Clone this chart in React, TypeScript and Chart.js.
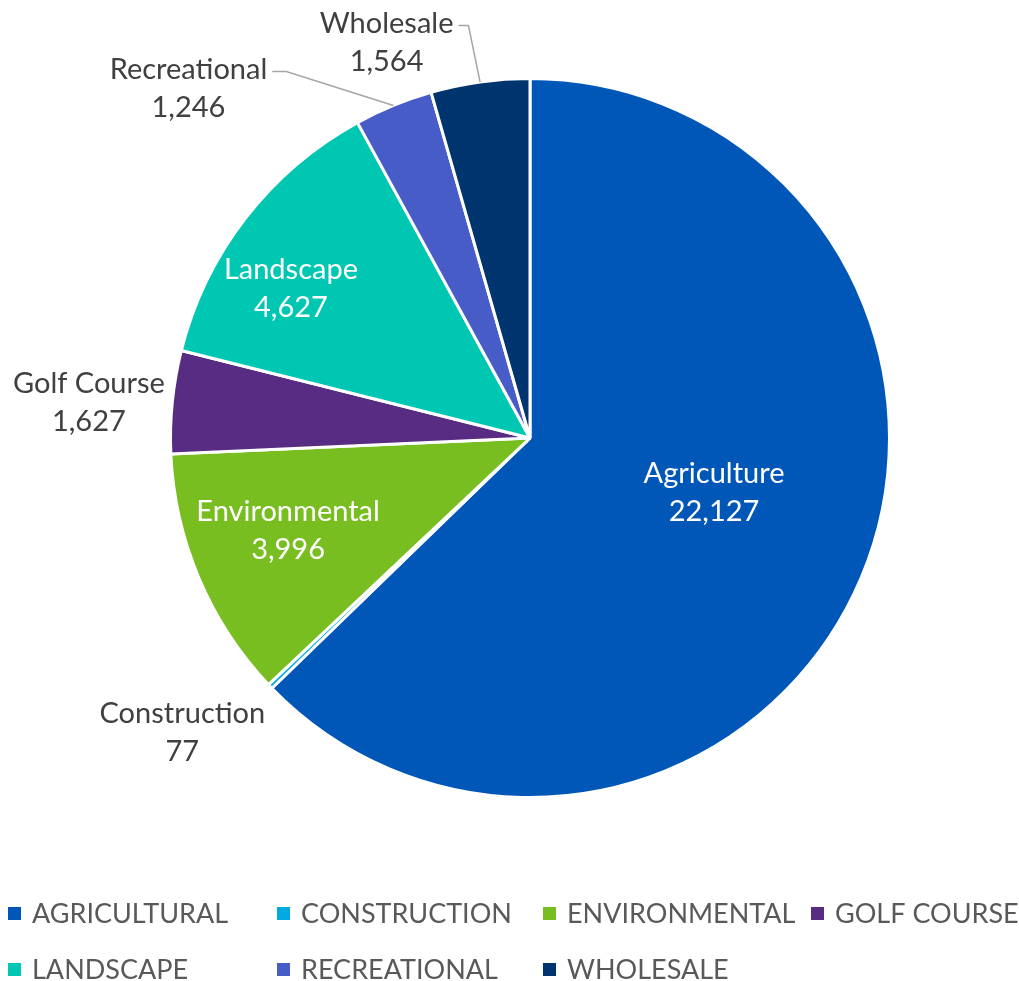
import React, { useEffect, useRef } from "react";
import { Chart, registerables } from "chart.js";

Chart.register(...registerables);

const categories = ["Agriculture", "Construction", "Environmental", "Golf Course", "Landscape", "Recreational", "Wholesale"];
const legendLabels = ["AGRICULTURAL", "CONSTRUCTION", "ENVIRONMENTAL", "GOLF COURSE", "LANDSCAPE", "RECREATIONAL", "WHOLESALE"];
const values = [22127, 77, 3996, 1627, 4627, 1246, 1564];
const colors = ["#0057B8", "#00A9E0", "#78BE20", "#582C83", "#00C7B1", "#485CC7", "#00346E"];
// label placement relative to pie center, in units of radius
const labelOffsets = [
  [0.512, 0.152],
  [-0.967, 0.82],
  [-0.673, 0.258],
  [-1.227, -0.097],
  [-0.665, -0.416],
  [-0.95, -0.972],
  [-0.399, -1.1],
];
const labelInside = [true, false, true, false, true, false, false];
const leaderLines = [false, false, false, false, false, true, true];

const FONT = "Lato, 'Open Sans', sans-serif";
const LABEL_SIZE = 29;
const LEGEND_SIZE = 27;

const fmt = (v: number) => v.toLocaleString("en-US");

const labelPlugin = {
  id: "sliceLabels",
  afterDatasetsDraw(chart: any) {
    const ctx = chart.ctx;
    const meta = chart.getDatasetMeta(0);
    const first = meta.data[0];
    const cx = first.x;
    const cy = first.y;
    const r = first.outerRadius;
    ctx.save();
    ctx.font = `${LABEL_SIZE}px ${FONT}`;
    ctx.textAlign = "center";
    ctx.textBaseline = "middle";
    const lh = 38;
    meta.data.forEach((arc: any, i: number) => {
      const [fx, fy] = labelOffsets[i];
      const x = cx + fx * r;
      const y = cy + fy * r;
      ctx.fillStyle = labelInside[i] ? "#FFFFFF" : "#404040";
      ctx.fillText(categories[i], x, y - lh / 2);
      ctx.fillText(fmt(values[i]), x, y + lh / 2);
      if (leaderLines[i]) {
        const w = ctx.measureText(categories[i]).width;
        const sx = x + w / 2 + 5;
        const sy = y - lh / 2 + 2;
        const mid = (arc.startAngle + arc.endAngle) / 2;
        const ex = cx + Math.cos(mid) * r;
        const ey = cy + Math.sin(mid) * r;
        ctx.strokeStyle = "#A6A6A6";
        ctx.lineWidth = 1.5;
        ctx.beginPath();
        ctx.moveTo(sx, sy);
        ctx.lineTo(sx + (i === 6 ? 10 : 14), sy);
        ctx.lineTo(ex, ey);
        ctx.stroke();
      }
    });
    ctx.restore();
  },
};

const legendPlugin = {
  id: "gridLegend",
  afterDraw(chart: any) {
    const ctx = chart.ctx;
    const colX = [8, 277, 543, 811];
    const rowY = [913, 969];
    ctx.save();
    ctx.font = `${LEGEND_SIZE}px ${FONT}`;
    ctx.textAlign = "left";
    ctx.textBaseline = "middle";
    legendLabels.forEach((lab, i) => {
      const row = i < 4 ? 0 : 1;
      const col = i < 4 ? i : i - 4;
      const x = colX[col];
      const y = rowY[row];
      ctx.fillStyle = colors[i];
      ctx.fillRect(x, y - 6, 13, 13);
      ctx.fillStyle = "#595959";
      ctx.fillText(lab, x + 24, y + 1);
    });
    ctx.restore();
  },
};

export default function App() {
  const ref = useRef<HTMLCanvasElement>(null);
  useEffect(() => {
    document.body.style.margin = "0";
    const chart = new Chart(ref.current!, {
      type: "pie",
      data: {
        labels: categories,
        datasets: [
          {
            data: values,
            backgroundColor: colors,
            borderColor: "#FFFFFF",
            borderWidth: 3,
          },
        ],
      },
      options: {
        animation: false,
        responsive: false,
        layout: { padding: { top: 77, bottom: 182, left: 169, right: 128 } },
        plugins: {
          legend: { display: false },
          tooltip: { enabled: false },
        },
      },
      plugins: [labelPlugin, legendPlugin],
    });
    return () => chart.destroy();
  }, []);
  return (
    <div style={{ position: "absolute", left: 0, top: 0, width: 1019, height: 981, background: "#fff" }}>
      <canvas ref={ref} width={1019} height={981} />
    </div>
  );
}
